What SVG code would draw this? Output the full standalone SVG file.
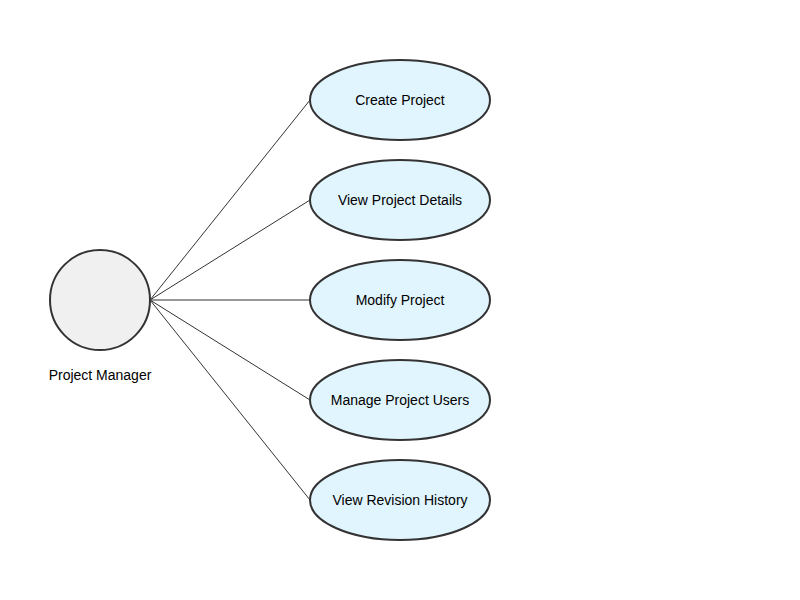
<svg xmlns="http://www.w3.org/2000/svg" width="800" height="600" viewBox="0 0 800 600">
<style>
.bg{fill:#ffffff}
.actor{fill:#f0f0f0;stroke:#333333;stroke-width:2}
.uc{fill:#e1f5fe;stroke:#333333;stroke-width:2}
.lbl{font-family:"Liberation Sans",Arial,sans-serif;font-size:14px;fill:#000000;text-anchor:middle;dominant-baseline:central}
.conn line{stroke:#333333;stroke-width:1}
</style>
<rect class="bg" x="0" y="0" width="800" height="600"/>
<g id="connectors" class="conn">
<line x1="150" y1="300" x2="310" y2="100"/>
<line x1="150" y1="300" x2="310" y2="200"/>
<line x1="150" y1="300" x2="310" y2="300"/>
<line x1="150" y1="300" x2="310" y2="400"/>
<line x1="150" y1="300" x2="310" y2="500"/>
</g>
<g id="actor">
<circle class="actor" cx="100" cy="300" r="50"/>
<text class="lbl" x="100" y="375">Project Manager</text>
</g>
<g id="uc-create">
<ellipse class="uc" cx="400" cy="100" rx="90" ry="40"/>
<text class="lbl" x="400" y="100">Create Project</text>
</g>
<g id="uc-view">
<ellipse class="uc" cx="400" cy="200" rx="90" ry="40"/>
<text class="lbl" x="400" y="200">View Project Details</text>
</g>
<g id="uc-modify">
<ellipse class="uc" cx="400" cy="300" rx="90" ry="40"/>
<text class="lbl" x="400" y="300">Modify Project</text>
</g>
<g id="uc-users">
<ellipse class="uc" cx="400" cy="400" rx="90" ry="40"/>
<text class="lbl" x="400" y="400">Manage Project Users</text>
</g>
<g id="uc-history">
<ellipse class="uc" cx="400" cy="500" rx="90" ry="40"/>
<text class="lbl" x="400" y="500">View Revision History</text>
</g>
</svg>
